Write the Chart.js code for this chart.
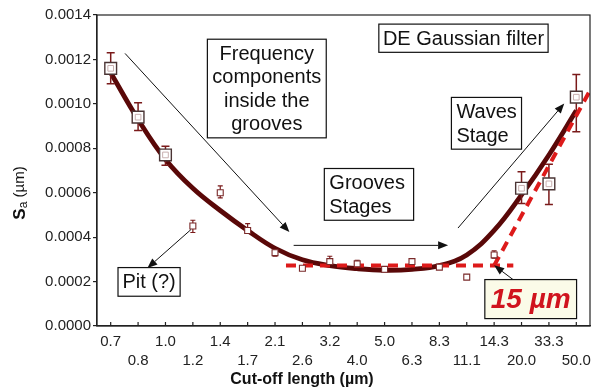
<!DOCTYPE html>
<html><head><meta charset="utf-8">
<script src="https://cdn.jsdelivr.net/npm/chart.js@4.4.1/dist/chart.umd.min.js"></script>
<style>html,body{margin:0;padding:0;background:#fff;}#wrap{width:605px;height:392px;}</style>
</head><body><div id="wrap"><canvas id="c" width="605" height="392"></canvas></div>
<script>
// ---- data ----
const cutoffLabels = ['0.7','0.8','1.0','1.2','1.4','1.7','2.1','2.6','3.2','4.0','5.0','6.3','8.3','11.1','14.3','20.0','33.3','50.0'];
const saMean = [0.00116,0.00094,0.00077,0.00045,0.00060,0.00043,0.00033,0.00026,0.00029,0.00028,0.000255,0.00029,0.000265,0.00022,0.00032,0.00062,0.00064,0.00103];
const saLow  = [0.00109,0.00088,0.000724,0.000421,0.000577,0.000419,0.000315,0.00025,0.000277,0.000272,0.000248,0.000278,0.000256,0.00021,0.000305,0.000551,0.000547,0.000874];
const saHigh = [0.00123,0.001005,0.000809,0.000476,0.000631,0.000461,0.00034,0.000268,0.000314,0.000296,0.000262,0.000302,0.000272,0.000228,0.000338,0.000694,0.000728,0.001132];
const fitCurve = [0.00114,0.00093,0.00075,0.00062,0.00052,0.00043,0.00035,0.000298,0.000272,0.000258,0.000251,0.000255,0.000272,0.00032,0.00043,0.00059,0.00077,0.00097];
const plateauX = [6.4, 14.7];
const plateauY = [0.000272, 0.000272];
const riseX = [14.0, 17.5];
const riseY = [0.000272, 0.00106];
const yTicks = [0,0.0002,0.0004,0.0006,0.0008,0.0010,0.0012,0.0014];

// annotations (data coordinates)
const notes = [
 {x0:3.53,x1:7.87,y0:0.001291,y1:0.000847,lines:['Frequency','components','inside the','grooves'],align:'center'},
 {x0:9.79,x1:15.97,y0:0.001359,y1:0.001232,lines:['DE Gaussian filter'],align:'center'},
 {x0:7.80,x1:11.06,y0:0.000709,y1:0.000476,lines:['Grooves','Stages'],align:'left'},
 {x0:12.44,x1:15.0,y0:0.001029,y1:0.000796,lines:['Waves','Stage'],align:'left'},
 {x0:0.267,x1:2.535,y0:0.000263,y1:0.000134,lines:['Pit (?)'],align:'center'},
 {x0:13.66,x1:17.01,y0:0.000209,y1:0.0000333,lines:['15 µm'],align:'center',fill:'#fbfbe8',color:'#d0141e',font:'italic bold 28px'}
];
const arrows = [
 [0.524,0.001227, 6.525,0.000423],
 [6.68,0.000363, 12.32,0.000363],
 [12.68,0.000441, 16.56,0.001002],
 [2.93,0.000434, 1.34,0.000261],
 [14.69,0.000209, 14.0,0.000273]
];

const FONT = '"Liberation Sans", Arial, Helvetica, sans-serif';
const meanPts = saMean.map((v,i)=>({x:i,y:v}));
const fitPts = fitCurve.map((v,i)=>({x:i,y:v}));
const isBig = i => (saHigh[i]-saLow[i]) > 0.00007;

const decor = {
  id:'decor',
  afterDatasetDraw(chart, args){
    if (args.index !== 1) return; // after dashed lines, before markers
    const ctx = chart.ctx, xs = chart.scales.x, ys = chart.scales.y;
    ctx.save();
    ctx.strokeStyle = '#7a1a1a';
    saMean.forEach((v,i)=>{
      const px = xs.getPixelForValue(i);
      const big = isBig(i);
      const cap = big ? 4 : 2.5;
      ctx.lineWidth = big ? 1.5 : 1.2;
      const yl = ys.getPixelForValue(saLow[i]), yh = ys.getPixelForValue(saHigh[i]);
      ctx.beginPath();
      ctx.moveTo(px, yl); ctx.lineTo(px, yh);
      ctx.moveTo(px-cap, yl); ctx.lineTo(px+cap, yl);
      ctx.moveTo(px-cap, yh); ctx.lineTo(px+cap, yh);
      ctx.stroke();
    });
    ctx.restore();
  },
  afterDraw(chart){
    const ctx = chart.ctx, xs = chart.scales.x, ys = chart.scales.y, a = chart.chartArea;
    const X = v=>xs.getPixelForValue(v), Y = v=>ys.getPixelForValue(v);
    ctx.save();
    ctx.strokeStyle = '#222'; ctx.lineWidth = 1.2;
    ctx.strokeRect(a.left, a.top, a.right-a.left, a.bottom-a.top);
    ctx.beginPath();
    cutoffLabels.forEach((_,i)=>{ const px = X(i); ctx.moveTo(px, a.bottom); ctx.lineTo(px, a.bottom-4); });
    ctx.stroke();
    ctx.strokeStyle = '#111'; ctx.fillStyle = '#111'; ctx.lineWidth = 1;
    arrows.forEach(([x0,y0,x1,y1])=>{
      const p0x=X(x0), p0y=Y(y0), p1x=X(x1), p1y=Y(y1);
      const ang = Math.atan2(p1y-p0y, p1x-p0x), L=10, W=4;
      const bx = p1x - L*Math.cos(ang), by = p1y - L*Math.sin(ang);
      ctx.beginPath(); ctx.moveTo(p0x,p0y); ctx.lineTo(bx,by); ctx.stroke();
      ctx.beginPath(); ctx.moveTo(p1x,p1y);
      ctx.lineTo(bx + W*Math.sin(ang), by - W*Math.cos(ang));
      ctx.lineTo(bx - W*Math.sin(ang), by + W*Math.cos(ang));
      ctx.closePath(); ctx.fill();
    });
    notes.forEach(n=>{
      const l=X(n.x0), r=X(n.x1), t=Y(n.y0), b=Y(n.y1);
      ctx.fillStyle = n.fill || '#fff';
      ctx.fillRect(l,t,r-l,b-t);
      ctx.strokeStyle = '#111'; ctx.lineWidth = 1.2;
      ctx.strokeRect(l,t,r-l,b-t);
      ctx.fillStyle = n.color || '#111';
      ctx.font = (n.font || '20px') + ' ' + FONT;
      ctx.textBaseline = 'middle';
      ctx.textAlign = n.align;
      const lh = 23.5, cy = (t+b)/2 + 1;
      const tx = n.align==='left' ? l+5 : (l+r)/2;
      n.lines.forEach((s,k)=>{ ctx.fillText(s, tx, cy + (k-(n.lines.length-1)/2)*lh); });
    });
    ctx.fillStyle = '#111'; ctx.textAlign='center'; ctx.textBaseline='middle';
    ctx.font = 'bold 16px ' + FONT;
    ctx.fillText('Cut-off length (µm)', 302, 380);
    ctx.translate(20, 193); ctx.rotate(-Math.PI/2);
    const parts = [['S','bold 17px',0],['a','12px',4],[' (µm)','15px',0]];
    let w = 0; parts.forEach(p=>{ctx.font=p[1]+' '+FONT; w+=ctx.measureText(p[0]).width;});
    let cx = -w/2; ctx.textAlign='left'; ctx.textBaseline='middle';
    parts.forEach(p=>{ctx.font=p[1]+' '+FONT; ctx.fillText(p[0], cx, p[2]); cx+=ctx.measureText(p[0]).width;});
    ctx.restore();
  }
};

new Chart(document.getElementById('c'), {
  type:'scatter',
  data:{datasets:[
    {label:'fit', data:fitPts, showLine:true, borderColor:'#5a0808', borderWidth:4.8, pointRadius:0, tension:0.4, order:4},
    {label:'plateau', data:plateauX.map((x,i)=>({x,y:plateauY[i]})), showLine:true, borderColor:'#dd1a1a', borderWidth:4, borderDash:[10,7], pointRadius:0, order:3},
    {label:'rise', data:riseX.map((x,i)=>({x,y:riseY[i]})), showLine:true, borderColor:'#dd1a1a', borderWidth:4, borderDash:[10,7], pointRadius:0, order:2},
    {label:'Sa', data:meanPts, showLine:false, pointStyle:'rect',
     pointRadius: c=> isBig(c.dataIndex) ? 8.3 : 4.2,
     pointBorderColor: c=> isBig(c.dataIndex) ? '#4a3434' : '#7a2a2a',
     pointBorderWidth: c=> isBig(c.dataIndex) ? 1.4 : 1.1,
     pointBackgroundColor:'#fff', order:1},
    {label:'inner', data:meanPts, showLine:false, pointStyle:'rect',
     pointRadius: c=> isBig(c.dataIndex) ? 4 : 0,
     pointBorderColor:'#c9b0b0', pointBorderWidth:1, pointBackgroundColor:'rgba(0,0,0,0)', order:0}
  ]},
  options:{
    responsive:false, animation:false, events:[],
    layout:{padding:{top:15,right:15,left:0,bottom:0}},
    plugins:{legend:{display:false}, tooltip:{enabled:false}},
    scales:{
      x:{type:'linear', min:-0.5, max:17.5,
        afterBuildTicks: ax=>{ ax.ticks = cutoffLabels.map((_,i)=>({value:i})); },
        afterFit: ax=>{ ax.height = 66; },
        grid:{display:false, drawTicks:false},
        border:{display:true, color:'#222', width:1.2},
        ticks:{autoSkip:false, maxRotation:0, minRotation:0, padding:6, color:'#222',
          font:{family:FONT, size:15, lineHeight:1.3},
          callback:(v)=>{ const i=Math.round(v); return i%2===0 ? [cutoffLabels[i],''] : ['',cutoffLabels[i]]; }}
      },
      y:{min:0, max:0.0014,
        afterBuildTicks: ax=>{ ax.ticks = yTicks.map(v=>({value:v})); },
        afterFit: ax=>{ ax.width = 97; },
        grid:{drawOnChartArea:false, drawTicks:true, tickLength:4, color:'#222', lineWidth:1.2},
        border:{display:true, color:'#222', width:1.2},
        ticks:{padding:2, color:'#222', font:{family:FONT, size:15}, callback:v=>v.toFixed(4)}
      }
    }
  },
  plugins:[decor]
});
</script>
</body></html>
